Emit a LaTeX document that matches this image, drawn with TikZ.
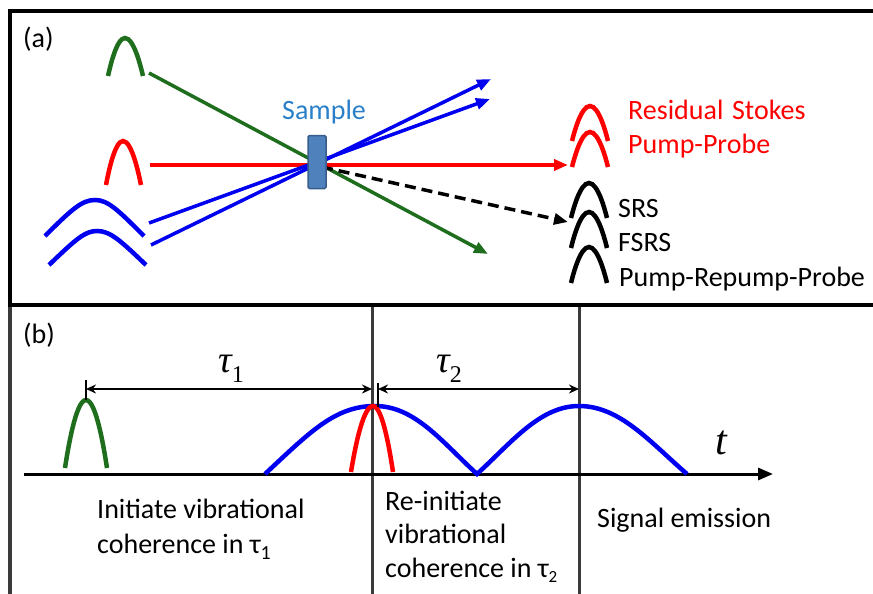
\documentclass[tikz,border=0pt]{standalone}
\usepackage{fontspec}
\setmainfont{Carlito}
\newfontfamily\serifgr{Liberation Serif}
\usetikzlibrary{arrows.meta}
\definecolor{pgreen}{HTML}{1E6E1E}
\definecolor{pblue}{HTML}{0000F0}
\definecolor{pred}{HTML}{FF0000}
\definecolor{vgray}{HTML}{3A3A3A}
\definecolor{samplefill}{HTML}{4F81BD}
\definecolor{sampleedge}{HTML}{385D8A}
\definecolor{samplelab}{HTML}{2A80C8}
\begin{document}
\begin{tikzpicture}[x=1pt,y=-1pt,
  pulse/.style={line width=4.5pt},
  beam/.style={line width=3.5pt,-{Triangle[length=14pt,width=11pt]}},
  lab/.style={font=\fontsize{28}{34}\selectfont, inner sep=0pt, anchor=base west},
  frame/.style={line width=4.5pt},
  vline/.style={line width=3pt, vgray},
  dim/.style={line width=2pt, {Stealth[length=10pt,width=9pt]}-{Stealth[length=10pt,width=9pt]}},
  tick/.style={line width=2pt},
  greek/.style={inner sep=0pt, anchor=base west, font=\serifgr\itshape\fontsize{38}{38}\selectfont},
  ]
\useasboundingbox (0,0) rectangle (873,594);

% ---------- frame ----------
\draw[vline, line width=4pt] (10,305) -- (10,594);
\draw[vline] (372,305) -- (372,594);
\draw[vline] (579,305) -- (579,594);
\draw[frame] (10,9) -- (10,305);
\draw[frame] (8,11) -- (873,11);
\draw[frame] (8,305) -- (873,305);

% ---------- panel (a) ----------
\node[lab] (la) at (23,48) {(a)};

% input pulses
\draw[pulse,pgreen] (108,76) parabola bend (125,38) (143,76);
\draw[pulse,pred] (106,185) parabola bend (123,141) (141,185);
\draw[pulse,pblue] (45,236) .. controls (72,209) and (82,200) .. (95,200)
   .. controls (108,200) and (118,210) .. (144,236);
\draw[pulse,pblue] (49,265) .. controls (76,239) and (85,231) .. (97,231)
   .. controls (110,231) and (120,240) .. (146,265);

% beam coordinates
\coordinate (gS) at (149,73);  \coordinate (gE) at (488,254);
\coordinate (rS) at (150,165); \coordinate (rE) at (568,165);
\coordinate (b1S) at (149,223); \coordinate (b1E) at (490,99);
\coordinate (b2S) at (151,245); \coordinate (b2E) at (491,79);
\coordinate (dS) at (322,167); \coordinate (dE) at (568,222);

\draw[beam,pgreen] (gS) -- (gE);
\draw[beam,pred] (rS) -- (rE);
\draw[beam,pblue] (b1S) -- (b1E);
\draw[beam,pblue] (b2S) -- (b2E);
\draw[beam,black,dash pattern=on 11pt off 6pt] (dS) -- (dE);

\node[draw=sampleedge, fill=samplefill, line width=1.5pt, minimum width=18pt,
      minimum height=53pt, rounded corners=1.5pt, inner sep=0pt] (sample) at (317,162) {};
\node[lab, text=samplelab] (slab) at (282,119) {Sample};

% output pulses
\draw[pulse,pred] (572,141) parabola bend (590,106) (608,141);
\draw[pulse,pred] (572,167) parabola bend (590,132) (608,167);
\draw[pulse,black] (571,218) parabola bend (589,183) (607,218);
\draw[pulse,black] (571,248) parabola bend (589,212) (607,248);
\draw[pulse,black] (571,283) parabola bend (589,247) (607,283);

\node[lab, text=pred] (rs) at (628,119) {\makebox[104pt][l]{Residual}Stokes};
\node[lab, text=pred] (pp) at (628,153) {Pump-Probe};
\node[lab] (srs) at (618,217) {SRS};
\node[lab] (fsrs) at (618,251) {FSRS};
\node[lab] (prp) at (619,286) {Pump-Repump-Probe};

% ---------- panel (b) ----------
\node[lab] (lb) at (23,343) {(b)};

\coordinate (ax0) at (24,474); \coordinate (ax1) at (773,474);
\draw[line width=3pt, -{Triangle[length=15pt,width=12pt]}] (ax0) -- (ax1);

\draw[pulse,pgreen] (65,468) parabola bend (86,400) (107,468);
\draw[pulse,pblue] (265,474) .. controls (310,432) and (335,406) .. (375,406)
   .. controls (415,406) and (442,442) .. (477,474)
   .. controls (512,442) and (540,406) .. (579,406)
   .. controls (620,406) and (650,442) .. (687,474);
\draw[pulse,pred] (351,472) parabola bend (373,406) (393,472);

% delay markers
\coordinate (m0) at (86,389); \coordinate (m1) at (372,389);
\coordinate (m2) at (378,389); \coordinate (m3) at (579,389);
\draw[tick] (86,380) -- (86,400);
\draw[tick] (378,383) -- (378,407);
\draw[dim] (m0) -- (m1);
\draw[dim] (m2) -- (m3);

\node[greek] (tau1) at (218,372) {τ\raisebox{-10pt}{\upshape\fontsize{24}{24}\selectfont 1}};
\node[greek] (tau2) at (436,372) {τ\raisebox{-10pt}{\upshape\fontsize{24}{24}\selectfont 2}};
\node[greek, font=\serifgr\itshape\fontsize{42}{42}\selectfont] (tl) at (715,454) {t};

% texts
\node[lab] (i1) at (97,518) {Initiate vibrational};
\node[lab] (i2) at (97,553) {coherence in τ\raisebox{-6pt}{\fontsize{20}{20}\selectfont 1}};
\node[lab] (r1) at (385,510) {Re-initiate};
\node[lab] (r2) at (385,543) {vibrational};
\node[lab] (r3) at (385,577) {coherence in τ\raisebox{-5pt}{\fontsize{17}{17}\selectfont 2}};
\node[lab] (se) at (597,527) {Signal emission};
\end{tikzpicture}
\end{document}
